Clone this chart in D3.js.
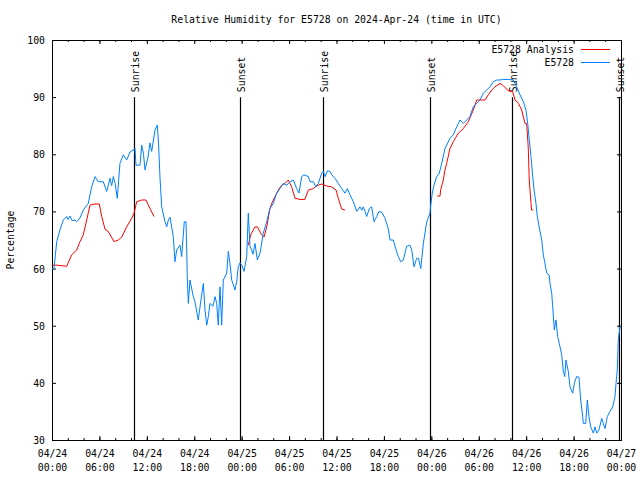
<!DOCTYPE html>
<html><head><meta charset="utf-8">
<script src="https://cdn.jsdelivr.net/npm/d3@7"></script>
<style>
body{margin:0;background:#fff}
svg text{font-family:"DejaVu Sans Mono","Liberation Mono",monospace;font-size:9.8px;fill:#000}
</style>
</head><body>
<svg id="c" width="640" height="480"></svg>
<script>
// ---- data (hours since 2024-04-24 00:00 UTC, percent) ----
const startTime = Date.UTC(2024, 3, 24, 0, 0);
const totalHours = 72;
const title = "Relative Humidity for E5728 on 2024-Apr-24 (time in UTC)";
const yLabel = "Percentage";
const seriesNames = ["E5728 Analysis", "E5728"];
const yTicks = [30, 40, 50, 60, 70, 80, 90, 100];
const sunrise = [10.38, 34.29, 58.2];
const sunset = [23.79, 47.83, 71.75];

const humidity = [
[0,60],[0.25,60],[0.6,64.7],[1.0,66.75],[1.43,68.5],[1.86,69.1],[2.02,68.6],[2.28,69.2],[2.53,68.4],[2.91,68.5],
[3.13,68.2],[3.54,68.85],[3.96,70.25],[4.59,71.4],[5.02,74.3],[5.44,76.1],[5.86,75.2],[6.49,75.2],[6.92,73.5],[7.34,75.8],
[7.55,74.5],[7.76,76.1],[7.97,75],[8.26,72.3],[8.6,78.4],[9.02,79.9],[9.45,79],[9.87,80.4],[10.29,80.75],[10.5,81.05],
[10.63,78.1],[11.13,78.1],[11.35,81.6],[11.58,80],[11.77,77.25],[12.15,79.5],[12.4,82],[12.62,80.5],[13.03,84.25],[13.32,85.1],
[13.48,82],[13.67,75.8],[13.88,70.8],[14.3,68.2],[14.52,67.3],[14.72,68.5],[14.93,69],[15.35,65.6],[15.56,61.2],[15.78,63.25],
[16.2,64.1],[16.41,62.1],[16.74,68.2],[16.96,68.2],[17.12,58.6],[17.25,53.9],[17.46,58],[17.88,55.1],[18.09,54.2],[18.51,51],
[18.73,53.3],[19.15,57.4],[19.36,52.75],[19.58,50.1],[19.78,51.6],[19.99,53.9],[20.37,53.4],[20.63,55.1],[20.84,53.9],[21.04,50.1],
[21.26,56.8],[21.47,50.1],[21.68,58],[22.11,59.2],[22.31,63],[22.52,60.9],[22.74,58],[23.16,56.25],[23.37,57.7],[23.57,60.3],
[23.79,61],[24.04,60.5],[24.3,59.5],[24.64,62.1],[24.84,69.7],[25.05,63.9],[25.27,63.25],[25.43,62.5],[25.69,64.4],[25.98,61.5],
[26.32,62.7],[26.74,66.2],[27.17,68.2],[27.58,70.5],[28.0,71.4],[28.43,73.2],[28.85,74],[29.27,74.9],[29.7,74.6],[30.12,75.2],
[30.53,75.5],[30.96,74],[31.25,73.2],[31.6,76.1],[31.89,76.4],[32.43,76.1],[32.65,75.2],[33.06,75.2],[33.41,74.3],[33.7,74.9],
[34.13,76.7],[34.33,77],[34.55,76.1],[34.84,77.1],[35.18,77],[35.4,76.4],[35.81,75.8],[36.23,74.9],[36.66,74],[37.08,73.2],
[37.37,74],[37.71,72.9],[38.13,71.7],[38.56,70],[38.97,70.8],[39.19,70.2],[39.39,70.8],[39.61,70],[39.82,69.1],[40.15,70.5],
[40.45,70.8],[40.74,68.2],[41.09,69.1],[41.38,70],[41.76,69.8],[42.14,68.8],[42.55,67],[42.77,65],[43.19,65],[43.4,63.9],
[43.82,62.1],[44.12,61.2],[44.45,61.5],[44.88,63.9],[45.3,64.1],[45.52,63.25],[45.81,60.3],[46.15,61.8],[46.38,61.8],[46.66,60],
[46.99,64.4],[47.42,68.2],[47.83,69.7],[47.92,71.1],[48.12,73.2],[48.34,74.6],[48.68,76.1],[49.01,76.7],[49.31,78.4],[49.73,81],
[50.36,82.8],[50.78,83.4],[51.21,84.8],[51.63,86],[52.05,85.4],[52.47,86],[52.89,86.6],[53.31,88.3],[53.74,88.9],[54.16,89.5],
[54.58,90.7],[55.0,91.25],[55.42,91.8],[55.84,92.7],[56.27,93],[56.69,93],[57.11,93.1],[57.74,93.1],[58.37,93],[58.8,91.8],
[59.22,90.4],[59.64,89.2],[59.98,87.75],[60.19,85.4],[60.4,82.5],[60.61,79.6],[60.83,76.1],[61.0,73.75],[61.24,71.4],[61.41,69.1],
[61.75,66.5],[61.97,65],[62.17,62.4],[62.38,60.9],[62.6,59.2],[62.89,58.9],[63.02,57.4],[63.23,55.7],[63.36,53.3],[63.56,49.25],
[63.77,51],[63.99,48.1],[64.19,46.9],[64.5,44.9],[64.7,42],[64.88,41.1],[65.04,44],[65.33,42],[65.55,39.3],[65.89,38.2],
[66.09,39.9],[66.39,41.1],[66.68,41],[66.9,37],[67.15,34.1],[67.23,32.9],[67.53,32.9],[67.74,37],[67.95,34.1],[68.17,32.3],
[68.5,31.2],[68.71,32.3],[68.93,31.2],[69.22,31.8],[69.56,33.8],[69.76,32.9],[69.98,32],[70.27,34.1],[70.61,35],[70.95,35.8],
[71.24,37.6],[71.37,39.9],[71.53,42.25],[71.66,47.5],[71.87,49.8],[72,50]
];

// null value = gap in the analysis series
const analysis = [
[0.06,60.6],[0.6,60.6],[1.86,60.4],[2.49,62.4],[3.13,63.25],[3.54,64.7],[3.96,65.9],[4.39,68.5],[4.81,71.1],[5.44,71.3],
[5.99,71.3],[6.29,69.1],[6.71,66.9],[7.12,66.5],[7.85,64.7],[8.39,65],[8.82,65.5],[9.45,67.3],[10.09,68.8],[10.38,69.7],
[10.72,71.7],[11.35,72],[11.89,72],[12.4,70.5],[12.91,69.1],
[18,null],
[24.84,64.1],[25.14,65.9],[25.69,67.3],[25.98,67.3],[26.54,65.9],[26.83,65.5],[27.17,67.3],[27.58,70.5],[27.8,71.4],[28.22,72.6],
[28.64,73.75],[29.07,74.6],[29.49,74.9],[29.9,75.5],[30.33,74.3],[30.75,72.3],[31.38,72.1],[32.01,72.1],[32.43,73.75],[33.06,74],
[33.49,74.5],[34.13,74.8],[34.76,74.45],[35.39,74.3],[35.94,73.75],[36.23,72.3],[36.66,70.4],[37.08,70.25],
[42,null],
[48.75,72.7],[49.1,72.7],[49.18,73.75],[49.51,75.5],[49.73,77.25],[49.94,78.4],[50.36,81],[50.78,82.2],[51.41,83.7],[52.05,84.5],
[52.68,85.7],[53.31,87.75],[53.74,89.5],[54.37,89.5],[54.79,89.5],[55.21,90.4],[55.64,91.25],[56.06,91.8],[56.69,92.4],[57.11,92],
[57.62,91.25],[57.95,91],[58.27,91],[58.6,89.5],[59.03,88.9],[59.43,87.75],[59.85,85.4],[60.06,85.4],[60.26,81.3],[60.39,75.5],
[60.61,71.4],[60.69,70.25],[60.9,70.25]
];

// ---- drawing ----
const toDate = h => new Date(startTime + h * 3600000);
const svg = d3.select("#c");
const L = 52, R = 621, T = 40, B = 440;
const x = d3.scaleUtc().domain([toDate(0), toDate(totalHours)]).range([L, R]);
const y = d3.scaleLinear().domain([30, 100]).range([B, T]);

const majorX = d3.utcHour.every(6).range(toDate(0), toDate(totalHours + 0.01));
const minorX = d3.utcHour.every(2).range(toDate(0), toDate(totalHours + 0.01));

function clean(g){ g.select(".domain").remove(); g.selectAll("line").attr("stroke","#000"); }

svg.append("g").attr("transform",`translate(0,${B})`)
  .call(d3.axisBottom(x).tickValues(minorX).tickSize(-2).tickFormat("")).call(clean);
svg.append("g").attr("transform",`translate(0,${T})`)
  .call(d3.axisTop(x).tickValues(minorX).tickSize(-2).tickFormat("")).call(clean);
svg.append("g").attr("transform",`translate(0,${T})`)
  .call(d3.axisTop(x).tickValues(majorX).tickSize(-4).tickFormat("")).call(clean);
const xb = svg.append("g").attr("transform",`translate(0,${B})`)
  .call(d3.axisBottom(x).tickValues(majorX).tickSize(-4).tickFormat(d3.utcFormat("%m/%d"))).call(clean);
xb.selectAll(".tick text").each(function(d){
  const t = d3.select(this).text(null).attr("y", null).attr("dy", null);
  t.append("tspan").attr("x",0).attr("y",17).text(d3.utcFormat("%m/%d")(d));
  t.append("tspan").attr("x",0).attr("y",31).text(d3.utcFormat("%H:%M")(d));
});

const yl = svg.append("g").attr("transform",`translate(${L},0)`)
  .call(d3.axisLeft(y).tickValues(yTicks).tickSize(-4).tickPadding(7)).call(clean);
yl.selectAll(".tick text").attr("dy","0.35em");
svg.append("g").attr("transform",`translate(${R},0)`)
  .call(d3.axisRight(y).tickValues(yTicks).tickSize(-4).tickFormat("")).call(clean);
svg.selectAll("g").attr("font-family",null).attr("font-size",null);

// frame
svg.append("rect").attr("x",L).attr("y",T).attr("width",R-L).attr("height",B-T)
  .attr("fill","none").attr("stroke","#000").attr("stroke-width",1).attr("shape-rendering","crispEdges");

// title & y label
svg.append("text").attr("x",(L+R)/2).attr("y",23).attr("text-anchor","middle").text(title);
svg.append("text").attr("transform","translate(14,240) rotate(-90)").attr("text-anchor","middle").text(yLabel);

// sun lines
const sunEvents = sunrise.map(h=>({h,label:"Sunrise"})).concat(sunset.map(h=>({h,label:"Sunset"})));
sunEvents.forEach(e=>{
  const xx = Math.round(x(toDate(e.h))) + 0.5;
  svg.append("line").attr("x1",xx).attr("x2",xx).attr("y1",y(90)).attr("y2",B)
    .attr("stroke","#000").attr("stroke-width",1.2);
  svg.append("text").attr("transform",`translate(${xx+4},${y(90)-5}) rotate(-90)`)
    .attr("text-anchor","start").text(e.label);
});

// lines
const line = d3.line().defined(d=>d[1]!==null).x(d=>x(toDate(d[0]))).y(d=>y(d[1]));
svg.append("path").datum(analysis).attr("d",line).attr("fill","none").attr("stroke","#ff0000").attr("stroke-width",1);
svg.append("path").datum(humidity).attr("d",line).attr("fill","none").attr("stroke","#0080ff").attr("stroke-width",1);

// legend
const legColors = ["#ff0000","#0080ff"];
seriesNames.forEach((n,i)=>{
  const yy = 49.5 + i*13;
  svg.append("text").attr("x",574).attr("y",yy).attr("dy","0.35em").attr("text-anchor","end").text(n);
  svg.append("line").attr("x1",581).attr("x2",610).attr("y1",yy).attr("y2",yy)
    .attr("stroke",legColors[i]).attr("stroke-width",1);
});
</script>
</body></html>
